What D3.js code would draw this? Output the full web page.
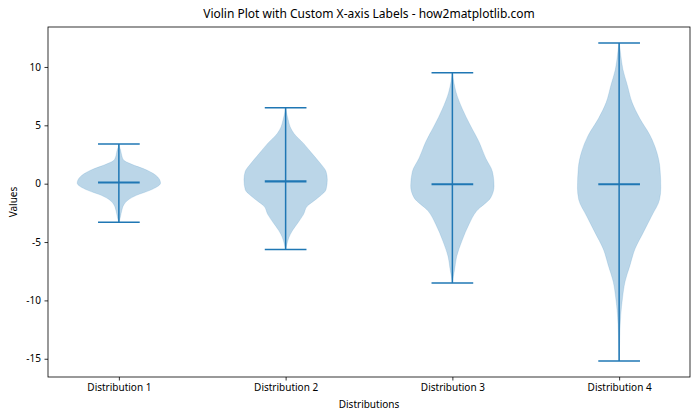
<!DOCTYPE html>
<html>
<head>
<meta charset="utf-8">
<script src="https://cdn.jsdelivr.net/npm/d3@7"></script>
<style>
  body { margin: 0; background: #fff; }
  svg { font-family: "Noto Sans", "DejaVu Sans", sans-serif; }
</style>
</head>
<body>
<svg id="chart" width="700" height="420"></svg>
<script>
// values
const labels = ["Distribution 1", "Distribution 2", "Distribution 3", "Distribution 4"];
const extMax = [3.4, 6.5, 9.5, 12.06];
const extMin = [-3.3, -5.65, -8.5, -15.2];
const medians = [0.1, 0.2, -0.05, -0.05];
const yTicks = [10, 5, 0, -5, -10, -15];

// density outline per violin: [value, relative half width]
const profile1 = [[3.4,0],[3.1,0.02],[2.9,0.04],[2.4,0.07],[2.0,0.12],[1.72,0.27],[1.15,0.68],[0.58,0.93],[0.05,1.0],[-0.55,0.76],[-1.0,0.42],[-1.4,0.22],[-1.8,0.12],[-2.3,0.07],[-2.8,0.04],[-3.1,0.02],[-3.3,0]];
const profile2 = [[6.5,0],[6.1,0.02],[5.5,0.06],[4.86,0.11],[4.3,0.2],[3.45,0.43],[2.6,0.63],[1.75,0.83],[1.04,0.97],[0.34,1.0],[-0.5,0.97],[-1.08,0.82],[-1.5,0.67],[-1.92,0.52],[-2.63,0.43],[-3.33,0.3],[-4.04,0.16],[-4.6,0.08],[-5.2,0.03],[-5.65,0]];
const profile3 = [[9.5,0],[9.0,0.02],[8.6,0.04],[7.82,0.09],[6.4,0.24],[5.0,0.43],[3.58,0.64],[2.18,0.8],[1.04,0.96],[-0.2,1.0],[-1.2,0.92],[-2.35,0.58],[-3.47,0.4],[-4.9,0.23],[-6.3,0.1],[-7.43,0.05],[-8.0,0.02],[-8.5,0]];
const profile4 = [[12.06,0],[11.6,0.02],[11.0,0.04],[9.8,0.09],[8.4,0.2],[6.97,0.31],[5.56,0.5],[4.15,0.74],[2.74,0.9],[1.33,0.98],[-0.36,1.0],[-1.36,0.97],[-2.77,0.78],[-4.18,0.58],[-5.6,0.38],[-7.0,0.26],[-8.42,0.14],[-9.83,0.08],[-11.2,0.04],[-13.0,0.015],[-14.5,0.005],[-15.2,0]];
const profiles = [profile1, profile2, profile3, profile4];

const color = "#1f77b4";
const margin = {top: 27, right: 10, bottom: 43, left: 48};
const width = 700, height = 420;

const svg = d3.select("#chart");

// same margins matplotlib puts round the data
const xLo = 0.75, xHi = 4.25;
const xPad = (xHi - xLo) * 0.05;
const x = d3.scaleLinear()
    .domain([xLo - xPad, xHi + xPad])
    .range([margin.left, width - margin.right]);

const yLo = d3.min(extMin), yHi = d3.max(extMax);
const yPad = (yHi - yLo) * 0.05;
const y = d3.scaleLinear()
    .domain([yLo - yPad, yHi + yPad])
    .range([height - margin.bottom, margin.top]);

const halfW = 0.25;   // violin width 0.5
const capW = 0.125;

const g = svg.append("g");

profiles.forEach((prof, i) => {
    const pos = i + 1;
    const area = d3.area()
        .y(d => y(d[0]))
        .x0(d => x(pos - d[1] * halfW))
        .x1(d => x(pos + d[1] * halfW))
        .curve(d3.curveMonotoneY);

    g.append("path")
        .datum(prof.slice().sort((a, b) => a[0] - b[0]))
        .attr("d", area)
        .attr("fill", color)
        .attr("fill-opacity", 0.3)
        .attr("stroke", color)
        .attr("stroke-opacity", 0.3)
        .attr("stroke-width", 0.5);
});

const lines = g.append("g")
    .attr("stroke", color)
    .attr("fill", "none");

labels.forEach((lab, i) => {
    const pos = i + 1;
    lines.append("line")
        .attr("x1", x(pos)).attr("x2", x(pos))
        .attr("y1", y(extMin[i])).attr("y2", y(extMax[i]))
        .attr("stroke-width", 1.5);
    [extMin[i], extMax[i]].forEach(v => {
        lines.append("line")
            .attr("x1", x(pos - capW)).attr("x2", x(pos + capW))
            .attr("y1", y(v)).attr("y2", y(v))
            .attr("stroke-width", 1.5);
    });
    lines.append("line")
        .attr("x1", x(pos - capW)).attr("x2", x(pos + capW))
        .attr("y1", y(medians[i])).attr("y2", y(medians[i]))
        .attr("stroke-width", 2.2);
});

// frame
svg.append("rect")
    .attr("x", margin.left)
    .attr("y", margin.top)
    .attr("width", width - margin.left - margin.right)
    .attr("height", height - margin.top - margin.bottom)
    .attr("fill", "none")
    .attr("stroke", "#000")
    .attr("stroke-width", 0.8);

const xAxis = svg.append("g")
    .attr("transform", `translate(0,${height - margin.bottom})`)
    .call(d3.axisBottom(x).tickValues([1, 2, 3, 4]).tickFormat(d => labels[d - 1]).tickSizeOuter(0).tickSize(3.5).tickPadding(3.5));

const yAxis = svg.append("g")
    .attr("transform", `translate(${margin.left},0)`)
    .call(d3.axisLeft(y).tickValues(yTicks).tickFormat(d3.format("d")).tickSizeOuter(0).tickSize(3.5).tickPadding(3.5));

[xAxis, yAxis].forEach(a => {
    a.select(".domain").remove();
    a.selectAll(".tick line").attr("stroke", "#000").attr("stroke-width", 0.8);
    a.selectAll(".tick text")
        .attr("fill", "#000")
        .style("font-size", "10px")
        .style("font-family", "'Noto Sans', sans-serif");
});
yAxis.selectAll(".tick text").text(d => d < 0 ? "-" + Math.abs(d) : d);

svg.append("text")
    .attr("x", (margin.left + width - margin.right) / 2)
    .attr("y", 18)
    .attr("text-anchor", "middle")
    .style("font-size", "12px")
    .text("Violin Plot with Custom X-axis Labels - how2matplotlib.com");

svg.append("text")
    .attr("x", (margin.left + width - margin.right) / 2)
    .attr("y", 408)
    .attr("text-anchor", "middle")
    .style("font-size", "10px")
    .text("Distributions");

svg.append("text")
    .attr("transform", `translate(17,${(margin.top + height - margin.bottom) / 2}) rotate(-90)`)
    .attr("text-anchor", "middle")
    .style("font-size", "10px")
    .text("Values");
</script>
</body>
</html>
